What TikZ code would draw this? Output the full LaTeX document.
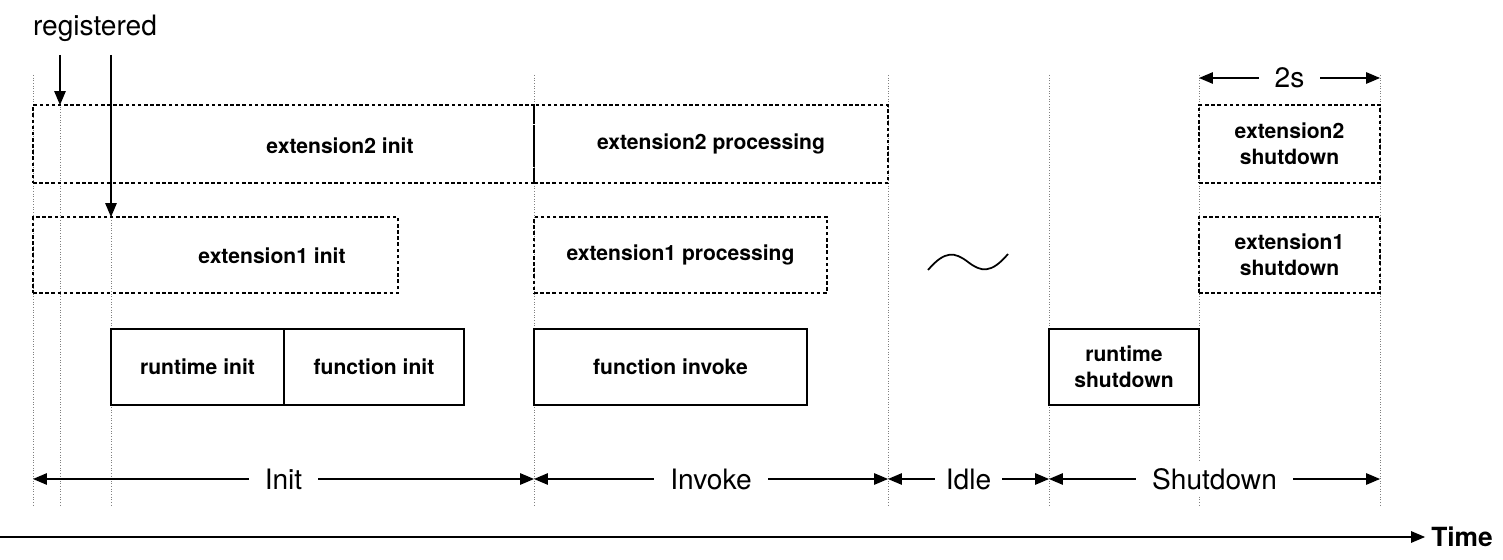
\documentclass[tikz,border=0pt]{standalone}
\usepackage{fontspec}
\setmainfont{TeX Gyre Heros}
\usetikzlibrary{arrows,fit}

\begin{document}
\begin{tikzpicture}[line cap=butt,line join=miter,>=triangle 45,x=0.02cm,y=-0.02cm,
    boxtext/.style={font=\bfseries\fontsize{12}{15}\selectfont,align=center},
    box/.style={draw,line width=1pt,inner sep=0pt},
    dbox/.style={box,dash pattern=on 2pt off 1.5pt},
    guide/.style={densely dotted,gray,line width=0.5pt},
    phase/.style={fill=white,inner xsep=9pt,font=\fontsize{16}{18}\selectfont}]
			\useasboundingbox (0,0) rectangle (1503,560);
			% guides
			\foreach \gx in {33,60,111,534,888,1049,1199,1380}
				\draw [guide] (\gx,75) -- (\gx,505);
			% corners
			\coordinate (e2a) at (33,105);   \coordinate (e2b) at (534,183);
			\coordinate (p2a) at (534,105);  \coordinate (p2b) at (888,183);
			\coordinate (e1a) at (33,217);   \coordinate (e1b) at (398,293);
			\coordinate (p1a) at (534,217);  \coordinate (p1b) at (827,293);
			\coordinate (ria) at (111,329);  \coordinate (rib) at (284,405);
			\coordinate (fia) at (284,329);  \coordinate (fib) at (464,405);
			\coordinate (fva) at (534,329);  \coordinate (fvb) at (807,405);
			\coordinate (rsa) at (1049,329); \coordinate (rsb) at (1199,405);
			\coordinate (s2a) at (1199,105); \coordinate (s2b) at (1380,183);
			\coordinate (s1a) at (1199,217); \coordinate (s1b) at (1380,293);
			% boxes
			\node [dbox,fit=(e2a)(e2b)] (ext2init) {};
			\node [boxtext] at (340,146) {extension2 init};
			\node [dbox,fit=(p2a)(p2b)] (ext2proc) {};
			\node [boxtext] at (ext2proc.center) {extension2 processing};
			\node [dbox,fit=(e1a)(e1b)] (ext1init) {};
			\node [boxtext] at (272,256) {extension1 init};
			\node [dbox,fit=(p1a)(p1b)] (ext1proc) {};
			\node [boxtext] at (ext1proc.center) {extension1 processing};
			\node [box,fit=(ria)(rib)] (rtinit) {};
			\node [boxtext] at (rtinit.center) {runtime init};
			\node [box,fit=(fia)(fib)] (fninit) {};
			\node [boxtext] at (fninit.center) {function init};
			\node [box,fit=(fva)(fvb)] (fninvoke) {};
			\node [boxtext] at (fninvoke.center) {function invoke};
			\node [box,fit=(rsa)(rsb)] (rtshut) {};
			\node [boxtext] at (rtshut.center) {runtime\\shutdown};
			\node [dbox,fit=(s2a)(s2b)] (ext2shut) {};
			\node [boxtext] at (ext2shut.center) {extension2\\shutdown};
			\node [dbox,fit=(s1a)(s1b)] (ext1shut) {};
			\node [boxtext] at (ext1shut.center) {extension1\\shutdown};
			% registered
			\node [font=\fontsize{16}{18}\selectfont] (reg) at (95,28) {registered};
			\coordinate (r1) at (60,55);  \coordinate (r2) at (111,55);
			\draw [->,line width=0.8pt] (r1) -- (60,105);
			\draw [->,line width=0.8pt] (r2) -- (111,217);
			% idle
			\draw [line width=1pt] (928,270) .. controls (945,250) and (955,252) .. (968,262)
				.. controls (981,272) and (991,274) .. (1008,254);
			% phases
			\coordinate (i0) at (33,479);   \coordinate (i1) at (534,479);
			\coordinate (i2) at (888,479);  \coordinate (i3) at (1049,479);
			\coordinate (i4) at (1380,479);
			\draw [<->,line width=0.8pt] (i0) -- (i1) node [midway,phase] {Init};
			\draw [<->,line width=0.8pt] (i1) -- (i2) node [midway,phase] {Invoke};
			\draw [<->,line width=0.8pt] (i2) -- (i3) node [midway,phase,inner xsep=6pt] {Idle};
			\draw [<->,line width=0.8pt] (i3) -- (i4) node [midway,phase] {Shutdown};
			\coordinate (t0) at (1199,78); \coordinate (t1) at (1380,78);
			\draw [<->,line width=0.8pt] (t0) -- (t1) node [midway,phase] {2s};
			% time axis
			\coordinate (x0) at (0,537);
			\node [font=\bfseries\fontsize{15}{17}\selectfont] (time) at (1462,537) {Time};
			\draw [->,line width=0.8pt] (x0) -- (time.west);
		\end{tikzpicture}
\end{document}
